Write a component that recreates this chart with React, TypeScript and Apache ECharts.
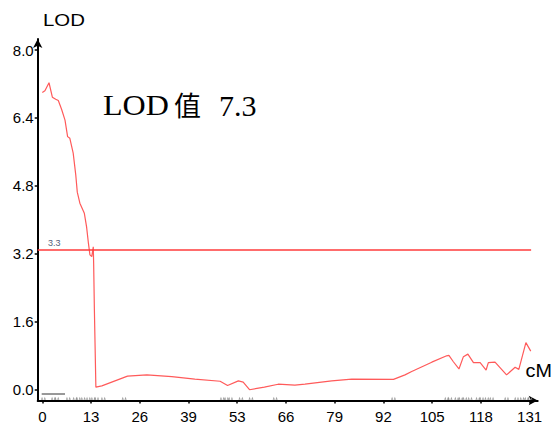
import React, { useEffect, useRef } from "react";
import * as echarts from "echarts";

// LOD curve (position in cM, LOD score)
const cmValues = [
  0.0, 0.7, 1.8, 2.7, 3.6, 4.3, 5.2, 6.1, 6.8, 7.4, 8.3, 9.0, 9.4, 10.1, 11.3,
  11.9, 12.4, 12.8, 13.3, 13.7, 13.8, 14.0, 14.4, 16.0, 22.9, 28.1, 34.8, 41.0,
  47.8, 49.8, 52.7, 54.0, 55.7, 59.7, 63.4, 67.9, 70.6, 77.8, 83.2, 94.4, 97.5,
  99.3, 104.7, 108.7, 109.3, 110.5, 112.0, 113.2, 114.4, 115.9, 117.7, 119.3,
  119.9, 121.7, 124.8, 127.1, 128.1, 130.0, 131.3,
];
const lodValues = [
  7.0, 7.04, 7.23, 6.89, 6.84, 6.81, 6.6, 6.35, 5.96, 5.92, 5.57, 5.05, 4.65,
  4.39, 4.15, 3.83, 3.44, 3.17, 3.13, 3.36, 2.97, 1.87, 0.05, 0.08, 0.31, 0.34,
  0.3, 0.24, 0.19, 0.09, 0.2, 0.17, -0.01, 0.05, 0.12, 0.1, 0.12, 0.2, 0.24,
  0.235, 0.34, 0.42, 0.64, 0.79, 0.8, 0.65, 0.48, 0.77, 0.83, 0.63, 0.63, 0.455,
  0.63, 0.64, 0.34, 0.52, 0.47, 1.1, 0.9,
];

// marker positions along the linkage group (cM)
const markerCm = [
  0.3, 3.0, 3.9, 7.0, 8.8, 9.7, 11.0, 12.4, 13.7, 14.6, 16.4, 22.0, 48.4, 49.5,
  50.6, 53.4, 56.1, 62.6, 94.4, 108.7, 109.6, 111.4, 112.5, 113.6, 115.0,
  117.1, 118.1, 119.5, 120.8, 124.8, 127.5, 129.0, 130.2, 131.1,
];

const thresholdLOD = 3.3;
const thresholdEndCm = 131.4;
const peakLOD = "7.3";

const xTickValues = [0, 13.1, 26.2, 39.3, 52.4, 65.5, 78.6, 91.7, 104.8, 117.9, 131];
const xTickLabels = ["0", "13", "26", "39", "53", "66", "79", "92", "105", "118", "131"];
const yTickValues = [0, 1.6, 3.2, 4.8, 6.4, 8.0];
const yTickLabels = ["0.0", "1.6", "3.2", "4.8", "6.4", "8.0"];

const X_MIN = -1.24;
const X_MAX = 133.17;
const Y_MIN = -0.264;
const Y_MAX = 8.262;
const MARKER_Y = -0.21;

export default function App() {
  const ref = useRef<HTMLDivElement>(null);

  useEffect(() => {
    document.body.style.margin = "0";
    if (!ref.current) return;
    const chart = echarts.init(ref.current, null, { renderer: "svg" });

    const axisFont = '"Liberation Sans", Arial, sans-serif';

    const option: any = {
      animation: false,
      backgroundColor: "#ffffff",
      grid: { left: 37.7, right: 17.3, top: 39, bottom: 27.5 },
      xAxis: {
        type: "value",
        min: X_MIN,
        max: X_MAX,
        axisLine: {
          show: true,
          onZero: false,
          symbol: ["none", "arrow"],
          symbolSize: [7, 9],
          lineStyle: { color: "#000", width: 2 },
        },
        axisTick: {
          show: true,
          length: 3,
          customValues: xTickValues,
          lineStyle: { color: "#000", width: 1.5 },
        },
        axisLabel: {
          customValues: xTickValues,
          formatter: (v: number) => {
            const i = xTickValues.findIndex((t) => Math.abs(t - v) < 0.01);
            return i >= 0 ? xTickLabels[i] : "";
          },
          fontSize: 15,
          color: "#000",
          margin: 8,
          fontFamily: axisFont,
        },
        splitLine: { show: false },
      },
      yAxis: {
        type: "value",
        min: Y_MIN,
        max: Y_MAX,
        axisLine: {
          show: true,
          onZero: false,
          symbol: ["none", "arrow"],
          symbolSize: [7, 9],
          lineStyle: { color: "#000", width: 2 },
        },
        axisTick: {
          show: true,
          length: 3,
          customValues: yTickValues,
          lineStyle: { color: "#000", width: 1.5 },
        },
        axisLabel: {
          customValues: yTickValues,
          formatter: (v: number) => {
            const i = yTickValues.findIndex((t) => Math.abs(t - v) < 0.01);
            return i >= 0 ? yTickLabels[i] : "";
          },
          fontSize: 15,
          color: "#000",
          margin: 4,
          fontFamily: axisFont,
        },
        splitLine: { show: false },
      },
      series: [
        {
          type: "line",
          data: cmValues.map((c, i) => [c, lodValues[i]]),
          showSymbol: false,
          symbol: "none",
          lineStyle: { color: "#ff5a5a", width: 1.2 },
          z: 3,
          markLine: {
            silent: true,
            symbol: "none",
            label: { show: false },
            lineStyle: { color: "#ff3b3b", width: 1.6, type: "solid" },
            data: [
              [
                { coord: [X_MIN, thresholdLOD] },
                { coord: [thresholdEndCm, thresholdLOD] },
              ],
            ],
          },
        },
        {
          type: "scatter",
          data: markerCm.map((c) => [c, MARKER_Y]),
          symbol: "path://M0,4L2,0L4,4ZM5,4L7,0L9,4Z",
          symbolSize: [5, 3],
          itemStyle: { color: "#8a8a8a" },
          silent: true,
          z: 2,
        },
      ],
      graphic: [
        {
          type: "text",
          x: 43,
          y: 20,
          scaleX: 1.2,
          style: {
            text: "LOD",
            font: '17px "Liberation Sans", Arial, sans-serif',
            fill: "#000",
            verticalAlign: "middle",
          },
        },
        {
          type: "text",
          x: 525.5,
          y: 371,
          scaleX: 1.1,
          style: {
            text: "cM",
            font: '18px "Liberation Sans", Arial, sans-serif',
            fill: "#000",
            verticalAlign: "middle",
          },
        },
        {
          type: "text",
          x: 103,
          y: 105,
          scaleX: 1.07,
          style: {
            text: "LOD",
            font: '30px "Liberation Serif", "Times New Roman", serif',
            fill: "#000",
            verticalAlign: "middle",
          },
        },
        {
          type: "text",
          x: 174,
          y: 104,
          style: {
            text: "值",
            font: '27px "Noto Sans CJK SC", sans-serif',
            fill: "#000",
            verticalAlign: "middle",
          },
        },
        {
          type: "text",
          x: 219,
          y: 105,
          style: {
            text: peakLOD,
            font: '30px "Liberation Serif", "Times New Roman", serif',
            fill: "#000",
            verticalAlign: "middle",
          },
        },
        {
          type: "text",
          x: 48,
          y: 242.5,
          style: {
            text: String(thresholdLOD),
            font: '9px "Liberation Sans", Arial, sans-serif',
            fill: "#55607a",
            verticalAlign: "middle",
          },
        },
        {
          type: "line",
          shape: { x1: 41.7, y1: 394, x2: 65, y2: 394 },
          style: { stroke: "#333", lineWidth: 1 },
        },
      ],
    };

    chart.setOption(option);
    return () => chart.dispose();
  }, []);

  return <div ref={ref} style={{ width: 555, height: 428 }} />;
}
